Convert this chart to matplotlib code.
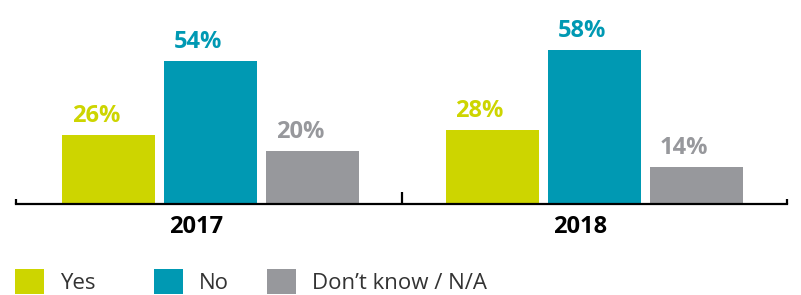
import matplotlib
matplotlib.use("Agg")
import matplotlib.pyplot as plt
import numpy as np

years = ["2017", "2018"]
answers = ["Yes", "No", "Don\u2019t know / N/A"]
yes_vals = [26, 28]
no_vals = [54, 58]
dk_vals = [20, 14]

colors = ["#CDD500", "#0099B3", "#97989C"]
plt.rcParams["font.family"] = ["Open Sans", "DejaVu Sans"]

W, H = 801, 295
fig = plt.figure(figsize=(W / 100, H / 100), dpi=100)
# axes in pixel terms: x 16..787, baseline at y=203.5, 2.64 px per %
ax = fig.add_axes([16 / W, (H - 203.5) / H, (787 - 16) / W, 60 * 2.64 / H])

x = np.arange(len(years))
bw = 0.2425
step = 0.266
series = [yes_vals, no_vals, dk_vals]
bars = []
for k, vals in enumerate(series):
    pos = x + (k - 1) * step
    b = ax.bar(pos, vals, bw, color=colors[k], label=answers[k], zorder=2)
    bars.append(b)
    for p, v in zip(pos, vals):
        ax.annotate(f"{v}%", (p, v), xytext=(-9, 5), textcoords="offset points",
                    ha="center", va="bottom", fontsize=17, fontweight="bold",
                    color=colors[k], annotation_clip=False)

ax.set_xlim(-0.507, 1.503)
ax.set_ylim(0, 60)
for s in ["top", "left", "right"]:
    ax.spines[s].set_visible(False)
ax.spines["bottom"].set_linewidth(1.6)
ax.spines["bottom"].set_color("black")
ax.set_yticks([])
ax.set_xticks([0.5])
ax.set_xticklabels([])
ax.tick_params(axis="x", which="major", direction="in", length=8.5, width=1.6, color="black")
ax.set_xticks([-0.507, 1.503], minor=True)
ax.tick_params(axis="x", which="minor", direction="in", length=3.5, width=1.6, color="black")

for i, yr in enumerate(years):
    ax.annotate(yr, (i - 0.037, 0), xytext=(0, -21), textcoords="offset points",
                ha="center", va="baseline", fontsize=17, fontweight="bold",
                color="black", annotation_clip=False)

# one legend entry per box, placed like the original
leg_x = [15, 154, 267]
for b, lab, lx in zip(bars, answers, leg_x):
    leg = fig.legend(handles=[b], labels=[lab], loc="lower left",
                     bbox_to_anchor=(lx / W, 1 / H), frameon=False,
                     fontsize=16, handlelength=1.3, handleheight=1.3,
                     handletextpad=0.72, borderpad=0, borderaxespad=0)
    for t in leg.get_texts():
        t.set_color("#333333")

fig.savefig("out.png", dpi=100)
